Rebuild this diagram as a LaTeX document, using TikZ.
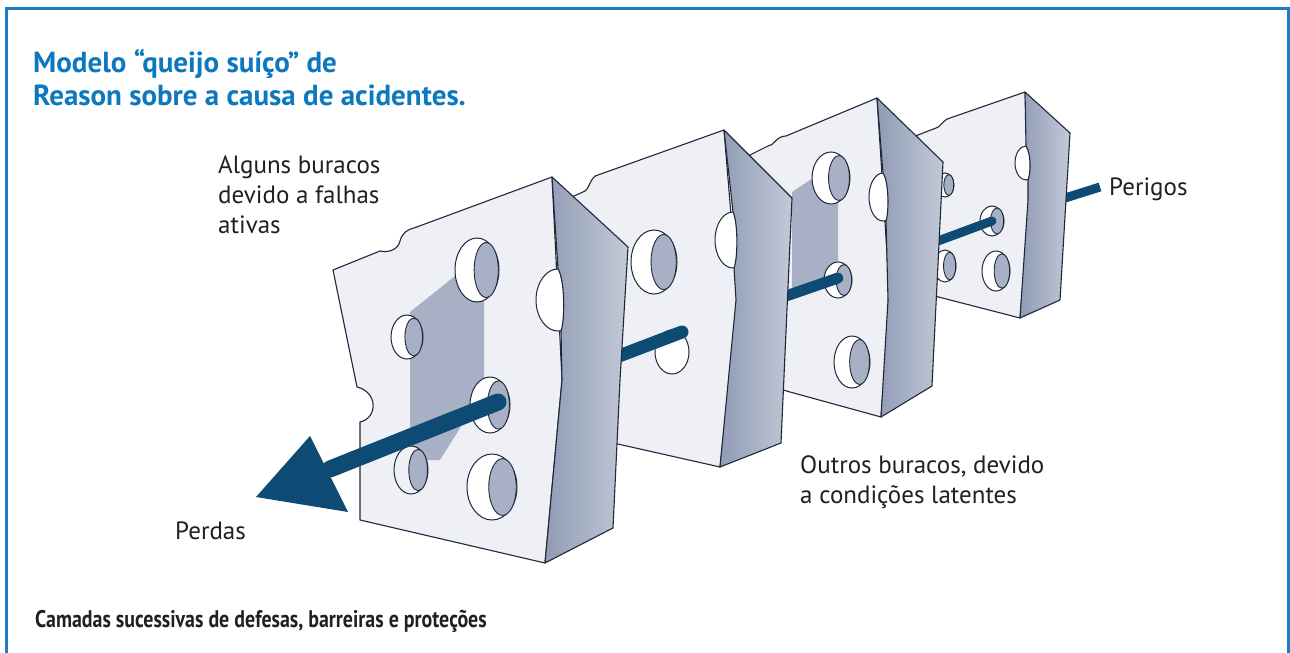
\documentclass[tikz,border=0pt]{standalone}
\usepackage{fontspec}
\setmainfont{PT Sans}
\definecolor{face}{HTML}{EEF0F5}
\definecolor{sidedark}{HTML}{909CB5}
\definecolor{sidelight}{HTML}{C2C9D7}
\definecolor{holein}{HTML}{A7B0C5}
\definecolor{edgec}{HTML}{1E2838}
\definecolor{rodc}{HTML}{0E4B74}
\definecolor{framec}{HTML}{1A7CC1}
\definecolor{titlec}{HTML}{0B78BF}
\definecolor{ink}{HTML}{231F20}
\tikzset{
  facefill/.style={fill=face, draw=edgec, line width=1.1pt, line join=round},
  sidefill/.style={draw=edgec, line width=1.1pt, line join=round, left color=sidedark, right color=sidelight},
  chan/.style={fill=holein},
  rodline/.style={draw=rodc, line cap=round},
  halfhole/.style={draw=edgec, line width=1pt, fill=white},
  lbl/.style={anchor=base west, inner sep=0pt, text=ink, font=\fontsize{25}{30}\selectfont},
  ttl/.style={anchor=base west, inner sep=0pt, text=titlec, font=\fontsize{29}{33}\selectfont\bfseries},
}
\newcommand\cheesehole[5]{%
  \draw[edgec, line width=1pt, fill=#5] (#1,#2) ellipse [x radius=#3, y radius=#4];
  \draw[edgec, line width=0.9pt, fill=holein] ({#1+0.42*#3},#2) ellipse [x radius={0.55*#3}, y radius={0.86*#4}];
}
\begin{document}
\begin{tikzpicture}[x=1pt, y=-1pt]
\useasboundingbox (0,0) rectangle (1290,653);
\fill[white] (0,0) rectangle (1290,653);
% frame
\draw[framec, line width=3pt] (6,653) -- (6,8) -- (1288.5,8) -- (1288.5,653);

% rod anchor points
\coordinate (pend) at (1100,187);
\coordinate (h4) at (992,221);
\coordinate (h3) at (838,278);
\coordinate (h2) at (682,332);
\coordinate (h1) at (498,402);
\coordinate (hb) at (330,469);

% rod behind slice 4
\draw[draw=rodc, line width=9pt] (pend) -- (h4);

% ---------- slice 4 ----------
\path[facefill] (905,140) -- (936,128) .. controls (940,128) and (942,120) .. (950,118) -- (1025,92) -- (1030,200) -- (1020,318) -- (923,293) -- (905,290) -- cycle;
\cheesehole{945}{185}{9}{12}{white}
\cheesehole{992}{221}{12}{15}{white}
\cheesehole{945}{266}{11}{16}{white}
\cheesehole{996}{271}{14}{20}{white}
\path[halfhole] (1026,163) ellipse [x radius=11, y radius=17];
\path[sidefill] (1025,92) -- (1070,133) -- (1060,300) -- (1020,318) -- (1028,200) -- (1028,180) .. controls (1031,172) and (1031,154) .. (1026,146) -- cycle;

\draw[rodline, line width=9pt] (h4) -- (h3);

% ---------- slice 3 ----------
\path[facefill] (750,155) -- (768,146) .. controls (774,146) and (776,136) .. (786,136) -- (877,98) -- (890,300) -- (881,417) -- (790,392) -- (750,380) -- cycle;
\path[chan] (792,192) -- (822,172) -- (838,190) -- (838,280) -- (805,295) -- (792,295) -- cycle;
\cheesehole{831}{178}{19}{26}{white}
\cheesehole{838}{280}{14}{18}{white}
\cheesehole{852}{362}{18}{26}{white}
\path[halfhole] (883,197) ellipse [x radius=14, y radius=24];
\path[sidefill] (877,98) -- (943,162) -- (932,386) -- (881,417) -- (888,300) -- (886,221) .. controls (889,212) and (889,182) .. (883,173) -- cycle;

\draw[rodline, line width=11pt] (h3) -- (h2);

% ---------- slice 2 ----------
\path[facefill] (565,200) -- (583,192) .. controls (590,190) and (590,176) .. (598,175) -- (724,130) -- (738,300) -- (720,467) -- (600,440) -- cycle;
\cheesehole{654}{262}{23}{32}{white}
\draw[edgec, line width=1pt, fill=white] (672,352) ellipse [x radius=17, y radius=22];
\path[halfhole] (733,240) ellipse [x radius=18, y radius=28];
\path[sidefill] (724,130) -- (792,198) -- (781,443) -- (720,467) -- (736,300) -- (734,268) .. controls (738,258) and (738,222) .. (733,212) -- cycle;

\draw[rodline, line width=13pt] (h2) -- (h1);

% ---------- slice 1 ----------
\path[facefill] (333,270) -- (380,251) .. controls (388,253) and (398,250) .. (400,241) .. controls (402,233) and (408,229) .. (414,228) -- (552,177) -- (562,380) -- (545,563) -- (360,520) -- (360,422) .. controls (378,418) and (378,392) .. (357,387) -- cycle;
\path[chan] (410,312) -- (465,268) -- (484,288) -- (484,385) -- (462,425) -- (440,460) -- (410,460) -- cycle;
\cheesehole{477}{270}{22}{32}{white}
\cheesehole{407}{337}{16}{22}{white}
\cheesehole{490}{405}{20}{28}{white}
\cheesehole{411}{470}{17}{24}{face}
\cheesehole{492}{487}{25}{33}{white}
\path[halfhole] (558,300) ellipse [x radius=22, y radius=31];
\path[sidefill] (552,177) -- (628,247) -- (620,380) -- (613,528) -- (545,563) -- (562,380) -- (561,331) .. controls (565,320) and (565,280) .. (558,269) -- cycle;

% front rod and arrow head
\draw[rodline, line width=17pt] (h1) -- (hb);
\fill[rodc] (310,436) -- (256,497) -- (348,512) -- cycle;

% ---------- labels ----------
\node[ttl] (t1) at (33,72) {Modelo “queijo suíço” de};
\node[ttl] (t2) at (33,105) {Reason sobre a causa de acidentes.};
\node[lbl] (a1) at (218,173) {Alguns buracos};
\node[lbl] (a2) at (218,203) {devido a falhas};
\node[lbl] (a3) at (218,233) {ativas};
\node[lbl] (per) at (1109,195) {Perigos};
\node[lbl] (o1) at (800,473) {Outros buracos, devido};
\node[lbl] (o2) at (800,503) {a condições latentes};
\node[lbl] (pd) at (175,539) {Perdas};
\node[lbl, font=\fontsize{24}{30}\selectfont\bfseries] (cam) at (35,627) {\scalebox{0.83}[1]{Camadas sucessivas de defesas, barreiras e proteções}};
\end{tikzpicture}
\end{document}
